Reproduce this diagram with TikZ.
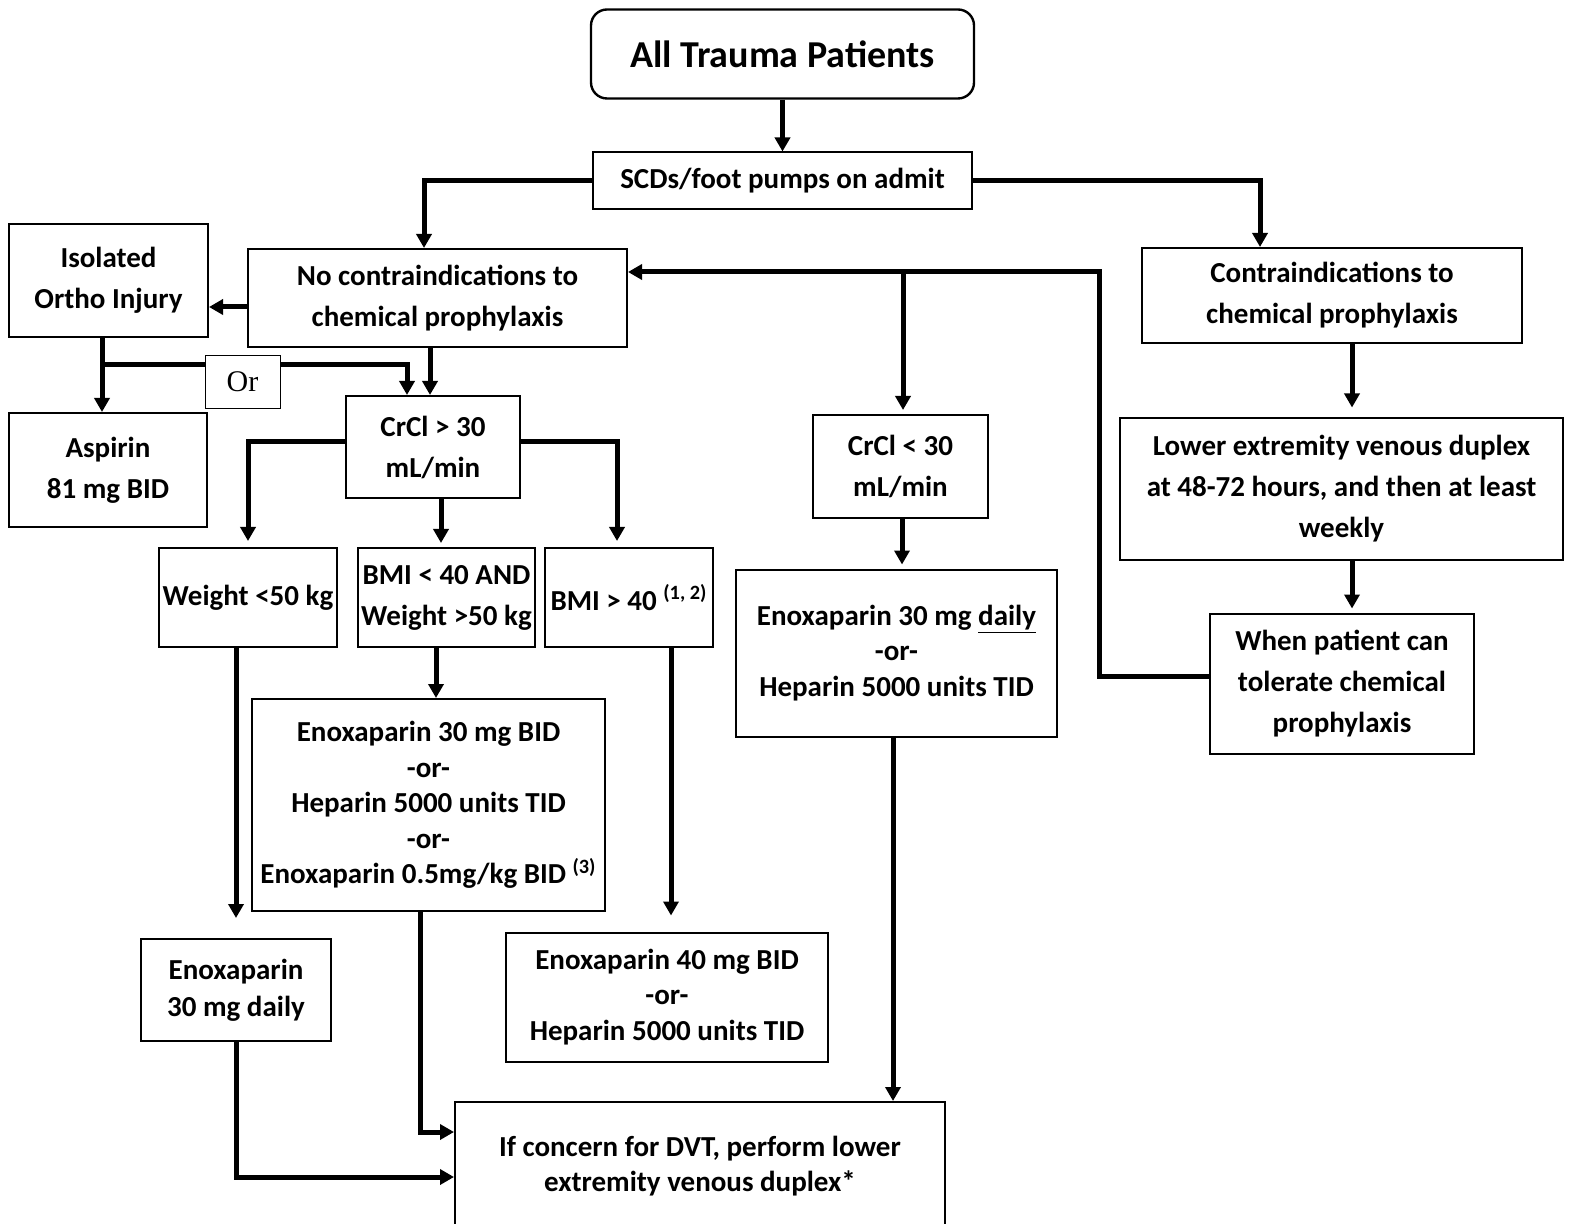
\documentclass[tikz,border=0pt]{standalone}
\usepackage{fontspec}
\setmainfont{Carlito}
\newfontfamily\orfont{Liberation Serif}
\usetikzlibrary{arrows.meta}

\begin{document}
\begin{tikzpicture}[x=0.5pt, y=-0.5pt,
  box/.style={draw, line width=1pt, align=center, inner sep=0pt, font=\bfseries\fontsize{14.5}{20.5}\selectfont},
  drugbox/.style={box, font=\bfseries\fontsize{14.5}{17.75}\selectfont},
  arr/.style={-{Triangle[width=7.5pt,length=7pt]}, line width=2.5pt},
  conn/.style={line width=2.5pt}]
\useasboundingbox (0,0) rectangle (1573,1224);

\node[box, rounded corners=8pt, line width=1.2pt, minimum width=191.5pt, minimum height=44.5pt, font=\bfseries\fontsize{19}{23}\selectfont] (trauma) at (782.5,54) {All Trauma Patients};
\node[box, minimum width=189.5pt, minimum height=28.5pt] (scd) at (782.5,181) {SCDs/foot pumps on admit};

\node[box, minimum width=189.5pt, minimum height=49pt] (nochem) at (437.5,298) {No contraindications to\\chemical prophylaxis};
\node[box, minimum width=99.5pt, minimum height=56.5pt] (ortho) at (108.5,280.5) {Isolated\\Ortho Injury};
\node[box, minimum width=99pt, minimum height=57pt] (aspirin) at (108,470) {Aspirin\\81 mg BID};
\node[draw, line width=0.5pt, minimum width=37.5pt, minimum height=26.5pt, inner sep=0pt, font=\orfont\fontsize{15}{18}\selectfont] (orbox) at (242.5,382) {Or};
\node[box, minimum width=87pt, minimum height=51pt] (crhigh) at (433,447) {CrCl > 30\\mL/min};

\node[box, minimum width=89pt, minimum height=49.5pt] (wlow) at (248,597.5) {Weight <50 kg};
\node[box, minimum width=88.5pt, minimum height=49.5pt] (bmilow) at (446.5,597.5) {BMI < 40 AND\\Weight >50 kg};
\node[box, minimum width=84pt, minimum height=49.5pt] (bmihigh) at (629,597.5) {BMI > 40 \textsuperscript{(1, 2)}};

\node[drugbox, minimum width=176.5pt, minimum height=106pt] (enoxbid) at (428.5,805) {Enoxaparin 30 mg BID\\-or-\\Heparin 5000 units TID\\-or-\\Enoxaparin 0.5mg/kg BID \textsuperscript{(3)}};
\node[drugbox, font=\bfseries\fontsize{14.5}{18.5}\selectfont, minimum width=95pt, minimum height=51pt] (enoxlow) at (236,990) {Enoxaparin\\30 mg daily};
\node[drugbox, minimum width=161pt, minimum height=64.5pt] (enoxhigh) at (667,997) {Enoxaparin 40 mg BID\\-or-\\Heparin 5000 units TID};
\node[drugbox, minimum width=245pt, minimum height=64pt] (dvt) at (700,1166) {If concern for DVT, perform lower\\extremity venous duplex*};

\node[box, minimum width=87.5pt, minimum height=51.5pt] (crlow) at (900.5,466.5) {CrCl < 30\\mL/min};
\node[drugbox, minimum width=160.5pt, minimum height=83.5pt] (enoxday) at (896.5,653) {Enoxaparin 30 mg \underline{daily}\\-or-\\Heparin 5000 units TID};

\node[box, minimum width=190pt, minimum height=47.5pt] (contra) at (1332,295.5) {Contraindications to\\chemical prophylaxis};
\node[box, minimum width=221.5pt, minimum height=70.5pt] (duplex) at (1341.5,489) {Lower extremity venous duplex\\at 48-72 hours, and then at least\\weekly};
\node[box, minimum width=132pt, minimum height=70pt] (tolerate) at (1342,683.5) {When patient can\\tolerate chemical\\prophylaxis};

\coordinate (ortholeg) at (102,365);
\coordinate (back) at (1099,272);
\coordinate (split) at (903,272);

% top
\draw[arr] (trauma) -- (scd);
\draw[arr] (scd.west) -| ([xshift=-6.75pt]nochem.north);
\draw[arr] (scd.east) -| ([xshift=-36pt]contra.north);

% no contraindications
\draw[arr] ([yshift=-4.5pt]nochem.west) -- ([yshift=-4.5pt]nochem.west -| ortho.east);
\draw[arr] ([xshift=-3.25pt]ortho.south) -- ([xshift=-3.25pt]ortho.south |- aspirin.north);
\draw[conn] (ortholeg) -- (ortholeg -| orbox.west);
\draw[arr] (ortholeg -| orbox.east) -| ([xshift=-13pt]crhigh.north);
\draw[arr] ([xshift=-3.75pt]nochem.south) -- ([xshift=-3.75pt]nochem.south |- crhigh.north);

% CrCl > 30
\draw[arr, shorten >=3pt] ([yshift=2.5pt]crhigh.west) -| (wlow.north);
\draw[arr, shorten >=2pt] ([xshift=4pt]crhigh.south) -- ([xshift=4pt]crhigh.south |- bmilow.north);
\draw[arr, shorten >=3pt] ([yshift=2.5pt]crhigh.east) -| ([xshift=-6pt]bmihigh.north);
\draw[arr] ([xshift=-5.25pt]bmilow.south) -- ([xshift=-5.25pt]bmilow.south |- enoxbid.north);
\draw[arr, shorten >=10pt] ([xshift=-6pt]wlow.south) -- (enoxlow.north);
\draw[arr, shorten >=8pt] ([xshift=21pt]bmihigh.south) -- ([xshift=21pt]bmihigh.south |- enoxhigh.north);
\draw[arr] ([xshift=-4.25pt]enoxbid.south) |- ([yshift=17pt]dvt.west);
\draw[arr] (enoxlow.south) |- ([yshift=-5.5pt]dvt.west);

% CrCl < 30
\draw[arr, shorten >=2pt] (split) -- (split |- crlow.north);
\draw[arr, shorten >=2pt] ([xshift=0.75pt]crlow.south) -- ([xshift=0.75pt]crlow.south |- enoxday.north);
\draw[arr] ([xshift=-1.75pt]enoxday.south) -- ([xshift=-1.75pt]enoxday.south |- dvt.north);

% contraindications
\draw[arr, shorten >=5pt] ([xshift=10pt]contra.south) -- ([xshift=10pt]contra.south |- duplex.north);
\draw[arr, shorten >=2pt] ([xshift=5.25pt]duplex.south) -- ([xshift=5pt]tolerate.north);
\draw[arr] ([yshift=3.5pt]tolerate.west) -| (back) -- (back -| nochem.east);
\end{tikzpicture}
\end{document}
